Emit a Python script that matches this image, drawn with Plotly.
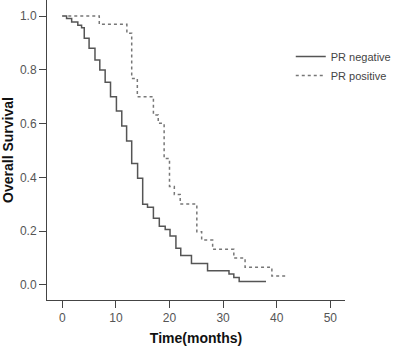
import plotly.graph_objects as go

# PR negative (solid) step curve: event times (months) and survival after each step
neg_time = [0, 0.8, 1.75, 2.9, 3.6, 4.1, 5.0, 6.1, 7.0, 8.0, 9.0, 10.1, 11.1, 12.0, 12.95,
            14.05, 15.0, 15.9, 17.0, 18.1, 19.2, 20.1, 21.2, 22.1, 24.1, 27.1, 31.1, 32.0, 33.0, 38.0]
neg_surv = [1.0, 0.991, 0.978, 0.966, 0.956, 0.917, 0.880, 0.836, 0.799, 0.754, 0.700, 0.647, 0.591,
            0.535, 0.452, 0.397, 0.300, 0.289, 0.248, 0.218, 0.206, 0.182, 0.137, 0.110, 0.080,
            0.053, 0.041, 0.028, 0.013, 0.013]

# PR positive (dotted) step curve
pos_time = [0, 6.9, 12.05, 12.95, 14.0, 17.0, 17.9, 19.0, 20.0, 20.9, 22.0, 25.1, 26.0, 28.05,
            32.0, 34.1, 39.1, 41.9]
pos_surv = [1.0, 0.969, 0.936, 0.768, 0.700, 0.632, 0.601, 0.470, 0.366, 0.336, 0.301, 0.198,
            0.167, 0.133, 0.100, 0.066, 0.033, 0.033]

x_ticks = [0, 10, 20, 30, 40, 50]
y_ticks = [0.0, 0.2, 0.4, 0.6, 0.8, 1.0]
y_tick_text = ["0.0", "0.2", "0.4", "0.6", "0.8", "1.0"]

fig = go.Figure()
fig.add_trace(go.Scatter(x=neg_time, y=neg_surv, mode="lines", name="PR negative",
                         line=dict(shape="hv", color="#555555", width=1.5)))
fig.add_trace(go.Scatter(x=pos_time, y=pos_surv, mode="lines", name="PR positive",
                         line=dict(shape="hv", color="#777777", width=1.5, dash="dot")))

fig.update_layout(
    width=398, height=348,
    margin=dict(l=47, r=53, t=0, b=48, autoexpand=False),
    plot_bgcolor="white", paper_bgcolor="white",
    font=dict(family="Arial, Liberation Sans, sans-serif", size=12, color="#555555"),
    legend=dict(x=0.818, y=0.86, xanchor="left", yanchor="top",
                font=dict(size=11, color="#444444"), itemwidth=30,
                bgcolor="rgba(0,0,0,0)", tracegroupgap=0),
    xaxis=dict(range=[-2.85, 52.74], tickvals=x_ticks, ticks="outside", ticklen=7,
               tickcolor="#444444", showline=True, linecolor="#444444", linewidth=1,
               showgrid=False, zeroline=False, automargin=False,
               title=dict(text="<b>Time(months)</b>", font=dict(size=14, color="#111111"), standoff=8)),
    yaxis=dict(range=[-0.0558, 1.0595], tickvals=y_ticks, ticktext=y_tick_text, ticks="outside",
               ticklen=7, tickcolor="#444444", showline=True, linecolor="#444444", linewidth=1,
               showgrid=False, zeroline=False, automargin=False,
               title=dict(text="<b>Overall Survival</b>", font=dict(size=14, color="#111111"), standoff=6)),
)

fig.write_html("out.html", config={"displayModeBar": False},
               post_script="document.body.style.margin='0';document.body.style.overflow='hidden';")
